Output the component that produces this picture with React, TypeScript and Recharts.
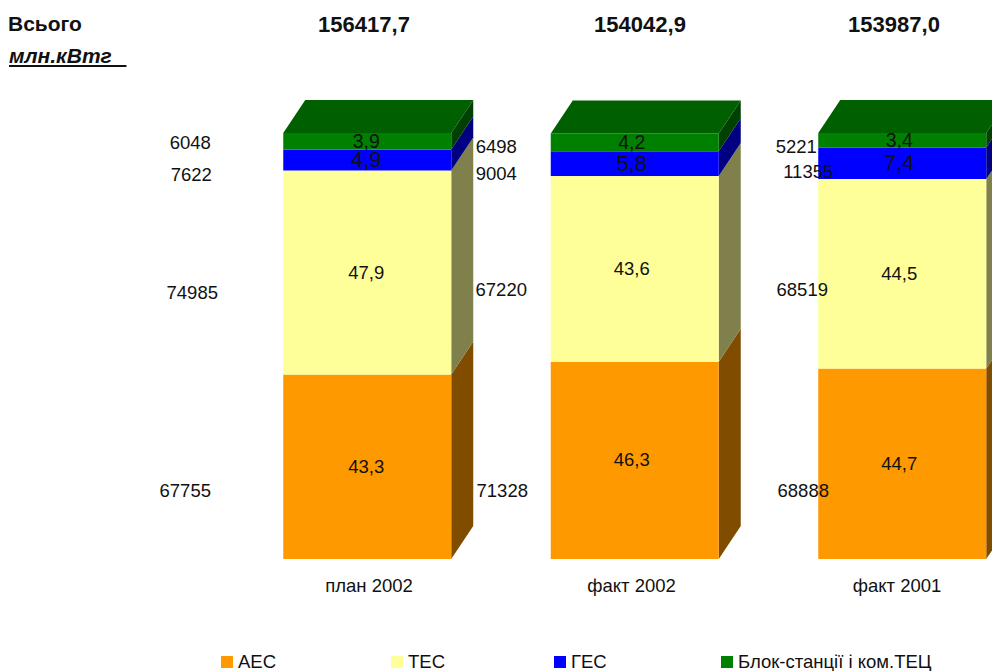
import { BarChart, Bar, XAxis, YAxis, LabelList, Legend } from 'recharts';

const CATEGORIES = ['план 2002', 'факт 2002', 'факт 2001'];
const TOTALS = ['156417,7', '154042,9', '153987,0'];

// share of total, %
const AES_PCT = [43.3, 46.3, 44.7];
const TES_PCT = [47.9, 43.6, 44.5];
const GES_PCT = [4.9, 5.8, 7.4];
const BLOK_PCT = [3.9, 4.2, 3.4];

// absolute values, mln kWh
const AES_ABS = [67755, 71328, 68888];
const TES_ABS = [74985, 67220, 68519];
const GES_ABS = [7622, 9004, 11355];
const BLOK_ABS = [6048, 6498, 5221];

const chartData = CATEGORIES.map((name, i) => ({
  name,
  aes: AES_PCT[i],
  tes: TES_PCT[i],
  ges: GES_PCT[i],
  blok: BLOK_PCT[i],
  aesAbs: AES_ABS[i],
  tesAbs: TES_ABS[i],
  gesAbs: GES_ABS[i],
  blokAbs: BLOK_ABS[i],
}));

const DEPTH_X = 22;
const DEPTH_Y = 33;
const TOTAL_X = [364, 640, 894];

// offsets of the absolute value labels from bar left edge / segment centre
const AES_OFFSETS = [[-98, 24], [-48.5, 30.6], [-15, 27]];
const TES_OFFSETS = [[-91, 19.5], [-49.5, 21], [-16, 16]];
const GES_OFFSETS = [[-92, 14], [-54.5, 10], [-10, 8]];
const BLOK_OFFSETS = [[-93, 1], [-54.5, 4.5], [-22, 6.7]];

// the original labels sit a little off the bar centres
const PCT_DX = [-1, -3, -3];
const TICK_DX = [2, -3, -5];

const LEGEND_X = [221, 391, 554, 721];

function Box3D(props: any) {
  const { x, y, width, height, fill, side, top } = props;
  const r = x + width;
  return (
    <g>
      <polygon
        points={`${r},${y} ${r + DEPTH_X},${y - DEPTH_Y} ${r + DEPTH_X},${y + height - DEPTH_Y} ${r},${y + height}`}
        fill={side}
      />
      {top && (
        <polygon
          points={`${x},${y} ${x + DEPTH_X},${y - DEPTH_Y} ${r + DEPTH_X},${y - DEPTH_Y} ${r},${y}`}
          fill={top}
        />
      )}
      <rect x={x} y={y} width={width} height={height} fill={fill} />
    </g>
  );
}

function absLabel(offsets: number[][]) {
  return (props: any) => {
    const { x, y, height, value, index } = props;
    const [dx, dy] = offsets[index];
    return (
      <text
        x={x + dx}
        y={y + height / 2 + dy}
        textAnchor="middle"
        dominantBaseline="central"
        fontSize={18.5}
        fill="#111"
      >
        {value}
      </text>
    );
  };
}

function pctLabel(size: number) {
  return (props: any) => {
    const { x, y, width, height, value, index } = props;
    return (
      <text
        x={x + width / 2 + PCT_DX[index]}
        y={y + height / 2 - 0.5}
        textAnchor="middle"
        dominantBaseline="central"
        fontSize={size}
        fill="#111"
      >
        {String(value).replace('.', ',')}
      </text>
    );
  };
}

function CategoryTick({ x, y, index, payload }: any) {
  return (
    <text x={x + TICK_DX[index]} y={y + 13} textAnchor="middle" dominantBaseline="central" fontSize={18.5} fill="#111">
      {payload.value}
    </text>
  );
}

function LegendRow({ payload }: any) {
  return (
    <div style={{ position: 'relative', height: 20 }}>
      {(payload || []).map((item: any, i: number) => (
        <div
          key={item.value}
          style={{ position: 'absolute', left: LEGEND_X[i], top: 0, display: 'flex', alignItems: 'center', whiteSpace: 'nowrap' }}
        >
          <span style={{ width: 12, height: 12, background: item.color, marginRight: 5 }} />
          <span style={{ fontSize: 18.5, color: '#111' }}>{item.value}</span>
        </div>
      ))}
    </div>
  );
}

export default function App() {
  return (
    <div
      style={{
        position: 'fixed',
        left: 0,
        top: 0,
        width: 992,
        height: 671,
        overflow: 'hidden',
        background: '#fff',
        fontFamily: '"Liberation Sans", Arial, sans-serif',
      }}
    >
      {/* Header */}
      <div style={{ position: 'absolute', left: 8, top: 12, fontSize: 21, fontWeight: 700, color: '#111' }}>Всього</div>
      <div
        style={{
          position: 'absolute',
          left: 9,
          top: 44,
          fontSize: 21,
          fontWeight: 700,
          fontStyle: 'italic',
          textDecoration: 'underline',
          whiteSpace: 'pre',
          wordSpacing: 1.5,
          color: '#111',
        }}
      >
        {'млн.кВтг  '}
      </div>
      {TOTALS.map((t, i) => (
        <div
          key={t}
          style={{
            position: 'absolute',
            left: TOTAL_X[i] - 60,
            width: 120,
            top: 12,
            textAlign: 'center',
            fontSize: 22,
            fontWeight: 700,
            color: '#111',
          }}
        >
          {t}
        </div>
      ))}

      <BarChart
        width={1100}
        height={671}
        data={chartData}
        margin={{ top: 133, right: 64.25, bottom: 52, left: 233.25 }}
      >
        <XAxis
          dataKey="name"
          axisLine={false}
          tickLine={false}
          tick={<CategoryTick />}
          tickMargin={7}
          height={40}
        />
        <YAxis hide domain={[0, 100]} />
        <Legend
          content={<LegendRow />}
          itemSorter={null as any}
          wrapperStyle={{ position: 'absolute', left: 0, top: 651, width: 992, height: 20 }}
        />
        <Bar
          dataKey="aes"
          name="АЕС"
          stackId="a"
          barSize={168}
          fill="#ff9900"
          isAnimationActive={false}
          shape={<Box3D side="#804d00" />}
        >
          <LabelList dataKey="aes" content={pctLabel(18.5)} />
          <LabelList dataKey="aesAbs" content={absLabel(AES_OFFSETS)} />
        </Bar>
        <Bar
          dataKey="tes"
          name="ТЕС"
          stackId="a"
          barSize={168}
          fill="#ffff99"
          isAnimationActive={false}
          shape={<Box3D side="#80804d" />}
        >
          <LabelList dataKey="tes" content={pctLabel(18.5)} />
          <LabelList dataKey="tesAbs" content={absLabel(TES_OFFSETS)} />
        </Bar>
        <Bar
          dataKey="ges"
          name="ГЕС"
          stackId="a"
          barSize={168}
          fill="#0000ff"
          isAnimationActive={false}
          shape={<Box3D side="#000080" />}
        >
          <LabelList dataKey="ges" content={pctLabel(22)} />
          <LabelList dataKey="gesAbs" content={absLabel(GES_OFFSETS)} />
        </Bar>
        <Bar
          dataKey="blok"
          name="Блок-станції і ком.ТЕЦ"
          stackId="a"
          barSize={168}
          fill="#008000"
          isAnimationActive={false}
          shape={<Box3D side="#004000" top="#006000" />}
        >
          <LabelList dataKey="blok" content={pctLabel(19.5)} />
          <LabelList dataKey="blokAbs" content={absLabel(BLOK_OFFSETS)} />
        </Bar>
      </BarChart>
    </div>
  );
}
